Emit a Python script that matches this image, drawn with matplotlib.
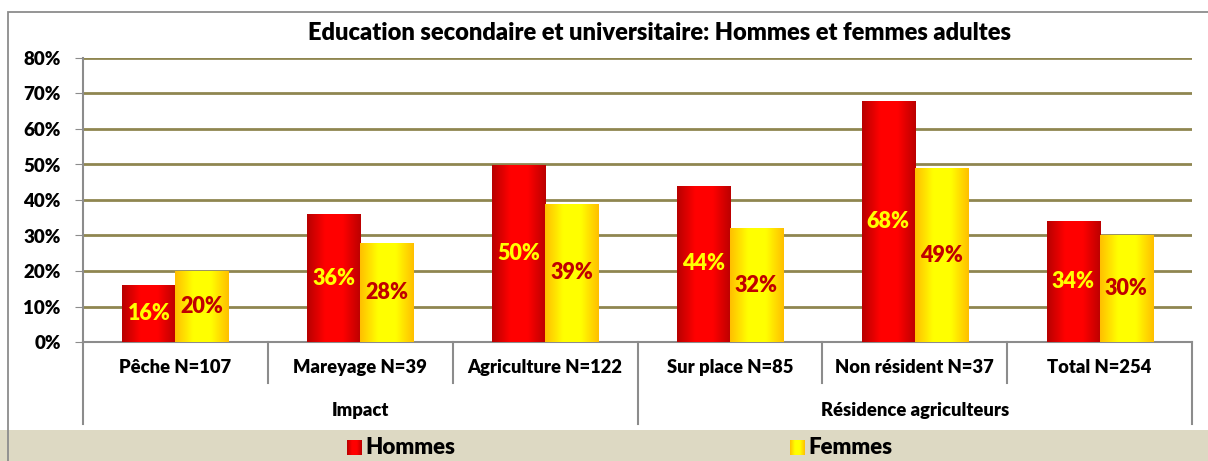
import numpy as np
import matplotlib
matplotlib.use("Agg")
import matplotlib.pyplot as plt
from matplotlib.colors import LinearSegmentedColormap
from matplotlib.patches import Rectangle

plt.rcParams['font.family'] = ['Lato', 'DejaVu Sans']
BW = 800  # graisse du texte

# données
categories = ['Pêche N=107', 'Mareyage N=39', 'Agriculture N=122',
              'Sur place N=85', 'Non résident N=37', 'Total N=254']
groups = ['Impact', 'Résidence agriculteurs']
group_sizes = [3, 3]
hommes = [16, 36, 50, 44, 68, 34]
femmes = [20, 28, 39, 32, 49, 30]
yticks = [0, 10, 20, 30, 40, 50, 60, 70, 80]
title = 'Education secondaire et universitaire: Hommes et femmes adultes'

# dégradés horizontaux
cmap_h = LinearSegmentedColormap.from_list('h', ['#B80000', '#FF0000', '#FF0000', '#BC0000'])
cmap_f = LinearSegmentedColormap.from_list('f', ['#FFC000', '#FFFF00', '#FFFF00', '#FFC000'])
grad = np.linspace(0, 1, 64).reshape(1, -1)

fig = plt.figure(figsize=(12.08, 4.61), dpi=100)

# cadre + bande de légende
fig.patches.append(Rectangle((0, 0), 1, 31 / 461, transform=fig.transFigure,
                             facecolor='#DDD9C3', edgecolor='none', zorder=-2))
fig.patches.append(Rectangle((8 / 1208, -0.05), 1.1, 1 - 12 / 461 + 0.05,
                             transform=fig.transFigure, facecolor='none',
                             edgecolor='#8C8C8C', lw=1.3, zorder=-1))

ax = fig.add_axes([83 / 1208, 1 - 342 / 461, (1192 - 83) / 1208, (342 - 58) / 461])

x = np.arange(len(categories)) + 0.5
w = 0.287

for vals, off, cmap, tcol in [(hommes, -w / 2, cmap_h, '#FFFF00'),
                              (femmes, w / 2, cmap_f, '#C00000')]:
    bars = ax.bar(x + off, vals, width=w, color='none', edgecolor='none', zorder=3)
    for b, v in zip(bars, vals):
        x0 = b.get_x()
        im = ax.imshow(grad, cmap=cmap, aspect='auto', zorder=3,
                       extent=[x0, x0 + w, 0, v], interpolation='bicubic')
        im.set_clip_path(b)
        ax.text(x0 + w / 2, v / 2, f'{v}%', ha='center', va='center',
                color=tcol, fontsize=15.5, fontweight=BW, zorder=4)

ax.set_xlim(0, len(categories))
ax.set_ylim(0, 80)

ax.set_yticks(yticks)
ax.set_yticklabels([f'{t}%' for t in yticks], fontsize=13.5, fontweight=BW)
ax.yaxis.grid(True, color='#8F8650', lw=2)
ax.set_axisbelow(True)
ax.tick_params(axis='y', length=6, color='#8C8C8C', pad=10)
ax.set_xticks([])
for s in ['top', 'right']:
    ax.spines[s].set_visible(False)
for s in ['left', 'bottom']:
    ax.spines[s].set_color('#8C8C8C')
    ax.spines[s].set_linewidth(1.5)

# étiquettes à deux niveaux
tr = ax.get_xaxis_transform()
for i, c in enumerate(categories):
    ax.text(i + 0.5, -0.09, c, transform=tr, ha='center', va='center',
            fontsize=13.2, fontweight=BW, clip_on=False)
edges = np.cumsum([0] + group_sizes)
for i in range(len(categories) + 1):
    y1 = -0.29 if i in edges else -0.145
    ax.plot([i, i], [0, y1], transform=tr, color='#8C8C8C', lw=1.5, clip_on=False)
for g, a, b in zip(groups, edges[:-1], edges[1:]):
    ax.text((a + b) / 2, -0.24, g, transform=tr, ha='center', va='center',
            fontsize=13.2, fontweight=BW, clip_on=False)

fig.text(660 / 1208, 1 - 33 / 461, title, ha='center', va='center',
         fontsize=17, fontweight=BW)

# légende
for x0, cmap, lab in [(347, cmap_h, 'Hommes'), (790, cmap_f, 'Femmes')]:
    lax = fig.add_axes([x0 / 1208, 1 - 455 / 461, 15 / 1208, 15 / 461])
    lax.imshow(grad, cmap=cmap, aspect='auto')
    lax.axis('off')
    fig.text((x0 + 18) / 1208, 1 - 447 / 461, lab, ha='left', va='center',
             fontsize=16, fontweight=BW)

fig.savefig('out.png', dpi=100)
